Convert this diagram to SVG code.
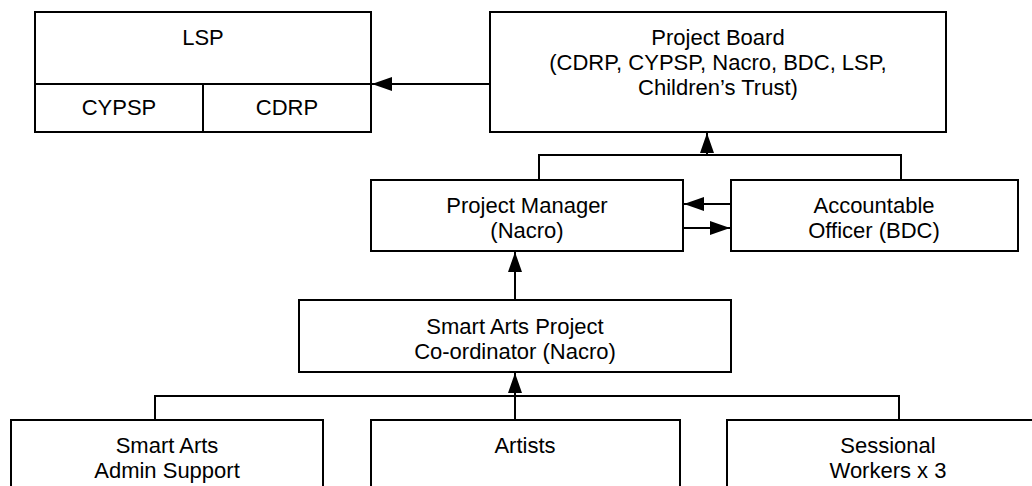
<svg xmlns="http://www.w3.org/2000/svg" width="1032" height="486" viewBox="0 0 1032 486">
<style>
.box{fill:#fff;stroke:#000;stroke-width:2}
.ln{fill:none;stroke:#000;stroke-width:2}
text{font-family:"Liberation Sans",Arial,sans-serif;font-size:22px;fill:#000;text-anchor:middle}
</style>
<defs>
<marker id="ah" markerWidth="20" markerHeight="14" refX="20" refY="7" orient="auto" markerUnits="userSpaceOnUse">
<path d="M0,0 L20,7 L0,14 Z" fill="#000"/>
</marker>
</defs>
<rect x="0" y="0" width="1032" height="486" fill="#fff"/>
<g id="connectors">
<path class="ln" d="M490,84 H372" marker-end="url(#ah)"/>
<path class="ln" d="M539,180 V155 H901 V180"/>
<path class="ln" d="M707,155 V133" marker-end="url(#ah)"/>
<path class="ln" d="M731,204 H684" marker-end="url(#ah)"/>
<path class="ln" d="M683,228 H730" marker-end="url(#ah)"/>
<path class="ln" d="M515,300 V252" marker-end="url(#ah)"/>
<path class="ln" d="M155,420 V396 H899 V420"/>
<path class="ln" d="M515,420 V373" marker-end="url(#ah)"/>
</g>
<g id="lsp">
<rect class="box" x="35" y="12" width="336" height="120"/>
<path class="ln" d="M35,84 H371 M203,84 V132"/>
<text x="203" y="45">LSP</text>
<text x="119" y="115">CYPSP</text>
<text x="287" y="115">CDRP</text>
</g>
<g id="project-board">
<rect class="box" x="490" y="12" width="456" height="120"/>
<text x="718" y="45">Project Board</text>
<text x="718" y="70">(CDRP, CYPSP, Nacro, BDC, LSP,</text>
<text x="718" y="95">Children’s Trust)</text>
</g>
<g id="project-manager">
<rect class="box" x="371" y="180" width="312" height="71"/>
<text x="527" y="213">Project Manager</text>
<text x="527" y="238">(Nacro)</text>
</g>
<g id="accountable-officer">
<rect class="box" x="731" y="180" width="287" height="71"/>
<text x="874" y="213">Accountable</text>
<text x="874" y="238">Officer (BDC)</text>
</g>
<g id="coordinator">
<rect class="box" x="299" y="300" width="432" height="72"/>
<text x="515" y="334">Smart Arts Project</text>
<text x="515" y="359">Co-ordinator (Nacro)</text>
</g>
<g id="admin-support">
<rect class="box" x="11" y="420" width="312" height="80"/>
<text x="167" y="453">Smart Arts</text>
<text x="167" y="478">Admin Support</text>
</g>
<g id="artists">
<rect class="box" x="371" y="420" width="309" height="80"/>
<text x="525" y="453">Artists</text>
</g>
<g id="sessional">
<rect class="box" x="727" y="420" width="330" height="80"/>
<text x="888" y="453">Sessional</text>
<text x="888" y="478">Workers x 3</text>
</g>
</svg>
